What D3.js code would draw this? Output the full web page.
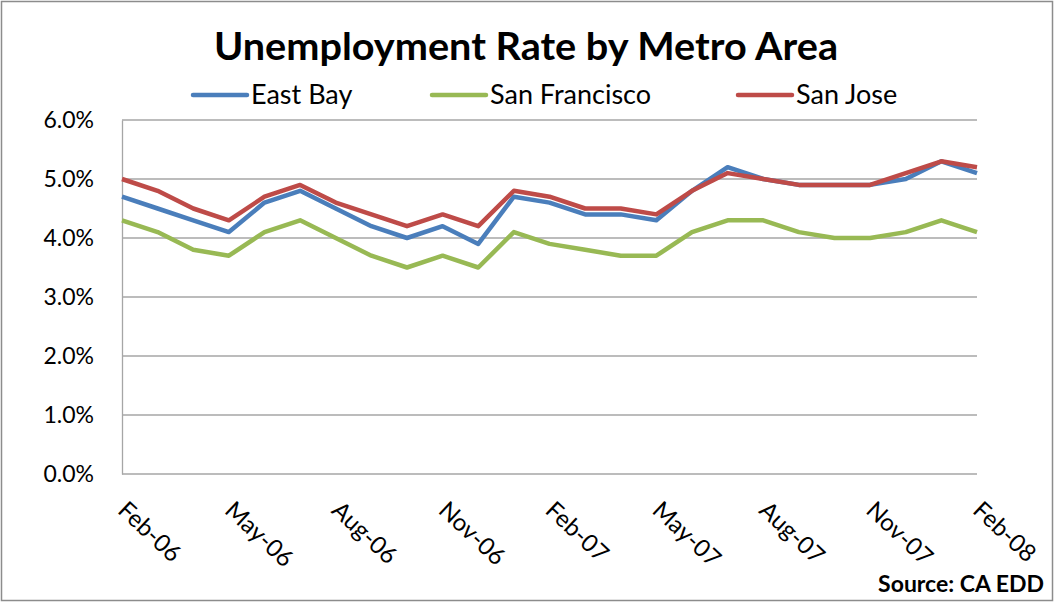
<!DOCTYPE html>
<html>
<head>
<meta charset="utf-8">
<script src="https://cdn.jsdelivr.net/npm/d3@7"></script>
<style>
  body { margin: 0; background: #fff; }
  text { font-family: Lato, "Open Sans", sans-serif; }
</style>
</head>
<body>
<script>
const months = ["Feb-06","Mar-06","Apr-06","May-06","Jun-06","Jul-06","Aug-06","Sep-06","Oct-06","Nov-06","Dec-06","Jan-07",
  "Feb-07","Mar-07","Apr-07","May-07","Jun-07","Jul-07","Aug-07","Sep-07","Oct-07","Nov-07","Dec-07","Jan-08","Feb-08"]
const tickLabels = ["Feb-06","May-06","Aug-06","Nov-06","Feb-07","May-07","Aug-07","Nov-07","Feb-08"]
const eastBay = [4.7,4.5,4.3,4.1,4.6,4.8,4.5,4.2,4.0,4.2,3.9,4.7,4.6,4.4,4.4,4.3,4.8,5.2,5.0,4.9,4.9,4.9,5.0,5.3,5.1]
const sanFrancisco = [4.3,4.1,3.8,3.7,4.1,4.3,4.0,3.7,3.5,3.7,3.5,4.1,3.9,3.8,3.7,3.7,4.1,4.3,4.3,4.1,4.0,4.0,4.1,4.3,4.1]
const sanJose = [5.0,4.8,4.5,4.3,4.7,4.9,4.6,4.4,4.2,4.4,4.2,4.8,4.7,4.5,4.5,4.4,4.8,5.1,5.0,4.9,4.9,4.9,5.1,5.3,5.2]
const yTicks = [0,1,2,3,4,5,6]

const series = [
  {name: "East Bay", values: eastBay, color: "#4a7ebb"},
  {name: "San Francisco", values: sanFrancisco, color: "#98b954"},
  {name: "San Jose", values: sanJose, color: "#be4b48"},
]

const width = 1054
const height = 602
const margin = {top: 120, right: 77, bottom: 128, left: 122}

const svg = d3.select('body').append('svg')
  .attr('width', width)
  .attr('height', height)

// outer frame
svg.append('rect')
  .attr('x', 1.5).attr('y', 1.5)
  .attr('width', width - 3).attr('height', height - 3)
  .attr('fill', 'none').attr('stroke', '#8c8c8c').attr('stroke-width', 1.5)

const x = d3.scalePoint()
  .domain(months)
  .range([margin.left, width - margin.right])

const y = d3.scaleLinear()
  .domain([0, 6])
  .range([height - margin.bottom, margin.top])

// gridlines
svg.append('g')
  .selectAll('line')
  .data(yTicks)
  .join('line')
  .attr('x1', margin.left)
  .attr('x2', width - margin.right)
  .attr('y1', d => y(d))
  .attr('y2', d => y(d))
  .attr('stroke', '#a6a6a6')
  .attr('stroke-width', 1.3)

// y axis
const yAxis = svg.append('g')
  .attr('transform', `translate(${margin.left},0)`)
  .call(d3.axisLeft(y).tickValues(yTicks).tickFormat(d => d.toFixed(1) + '%').tickSize(0).tickPadding(28))
yAxis.select('.domain').attr('stroke', '#a6a6a6').attr('stroke-width', 1.3)
yAxis.selectAll('text')
  .attr('font-size', 23)
  .attr('fill', '#000')
  .style('font-family', 'Lato, sans-serif')

// x axis labels
const xAxis = svg.append('g')
  .attr('transform', `translate(0,${height - margin.bottom})`)
  .call(d3.axisBottom(x).tickValues(tickLabels).tickSize(0).tickPadding(0))
xAxis.select('.domain').remove()
xAxis.selectAll('text')
  .attr('font-size', 24)
  .attr('fill', '#000')
  .attr('text-anchor', 'start')
  .attr('dy', 0)
  .attr('transform', 'translate(-6,38) rotate(43)')
  .style('font-family', 'Lato, sans-serif')

// lines
const line = d3.line()
  .x((d, i) => x(months[i]))
  .y(d => y(d))

svg.append('g')
  .selectAll('path')
  .data(series)
  .join('path')
  .attr('d', d => line(d.values))
  .attr('fill', 'none')
  .attr('stroke', d => d.color)
  .attr('stroke-width', 4.5)
  .attr('stroke-linejoin', 'round')

// title
svg.append('text')
  .attr('x', 526)
  .attr('y', 60)
  .attr('text-anchor', 'middle')
  .attr('font-size', 38)
  .attr('font-weight', 'bold')
  .attr('textLength', 624)
  .attr('lengthAdjust', 'spacingAndGlyphs')
  .text('Unemployment Rate by Metro Area')

// legend
const legendX = [193, 432, 738]
const legend = svg.append('g')
  .selectAll('g')
  .data(series)
  .join('g')
  .attr('transform', (d, i) => `translate(${legendX[i]},95)`)
legend.append('line')
  .attr('x1', 0).attr('x2', 54)
  .attr('stroke', d => d.color)
  .attr('stroke-width', 4.5)
  .attr('stroke-linecap', 'round')
legend.append('text')
  .attr('x', 58)
  .attr('y', 9)
  .attr('font-size', 27)
  .text(d => d.name)

// source
svg.append('text')
  .attr('x', 1044)
  .attr('y', 592)
  .attr('text-anchor', 'end')
  .attr('font-size', 23)
  .attr('font-weight', 'bold')
  .text('Source: CA EDD')
</script>
</body>
</html>
